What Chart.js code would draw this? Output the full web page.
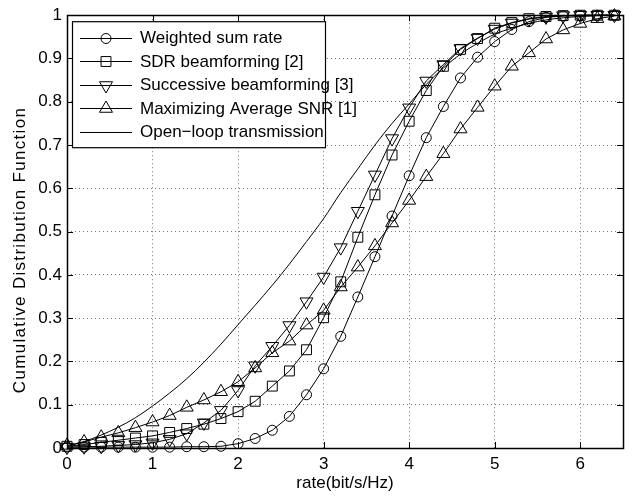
<!DOCTYPE html>
<html>
<head>
<meta charset="utf-8">
<script src="https://cdn.jsdelivr.net/npm/chart.js@4.4.1/dist/chart.umd.min.js"></script>
<style>
  body { margin: 0; background: #fff; }
</style>
</head>
<body>
<canvas id="myChart" width="644" height="500"></canvas>
<script>
// rate (bit/s/Hz) sample points
const rates = [0, 0.2, 0.4, 0.6, 0.8, 1.0, 1.2, 1.4, 1.6, 1.8, 2.0, 2.2, 2.4, 2.6, 2.8, 3.0,
  3.2, 3.4, 3.6, 3.8, 4.0, 4.2, 4.4, 4.6, 4.8, 5.0, 5.2, 5.4, 5.6, 5.8, 6.0, 6.2, 6.4];

const weightedSumRate = [0.002, 0.002, 0.002, 0.002, 0.002, 0.002, 0.002, 0.003, 0.003, 0.004, 0.01,
  0.022, 0.041, 0.073, 0.123, 0.183, 0.258, 0.349, 0.442, 0.536, 0.629, 0.717, 0.789, 0.855,
  0.903, 0.939, 0.967, 0.985, 0.995, 0.998, 0.999, 1.0, 1.0];

const sdrBeamforming = [0.004, 0.008, 0.013, 0.018, 0.023, 0.028, 0.036, 0.045, 0.055, 0.068, 0.084,
  0.108, 0.143, 0.178, 0.227, 0.301, 0.384, 0.487, 0.585, 0.677, 0.755, 0.826, 0.882, 0.921,
  0.946, 0.97, 0.983, 0.992, 0.997, 0.999, 1.0, 1.0, 1.0];

const successiveBeamforming = [0.002, 0.003, 0.004, 0.006, 0.008, 0.012, 0.02, 0.033, 0.058, 0.087,
  0.133, 0.19, 0.235, 0.283, 0.338, 0.395, 0.463, 0.547, 0.631, 0.715, 0.786, 0.848, 0.886,
  0.923, 0.947, 0.968, 0.982, 0.991, 0.996, 0.999, 1.0, 1.0, 1.0];

const maxAvgSnr = [0.006, 0.014, 0.025, 0.035, 0.047, 0.06, 0.075, 0.094, 0.111, 0.13, 0.153,
  0.185, 0.22, 0.247, 0.284, 0.318, 0.372, 0.418, 0.467, 0.52, 0.572, 0.627, 0.68, 0.737,
  0.787, 0.836, 0.882, 0.913, 0.945, 0.966, 0.981, 0.992, 0.998];

const openLoop = [0.003, 0.015, 0.03, 0.048, 0.07, 0.097, 0.127, 0.16, 0.198, 0.24, 0.285,
  0.33, 0.376, 0.425, 0.477, 0.53, 0.59, 0.645, 0.7, 0.75, 0.795, 0.84, 0.878, 0.91,
  0.935, 0.956, 0.97, 0.981, 0.989, 0.994, 0.997, 0.999, 1.0];

const seriesNames = ['Weighted sum rate', 'SDR beamforming [2]', 'Successive beamforming [3]',
  'Maximizing Average SNR [1]', 'Open\u2212loop transmission'];

const xTicks = [0, 1, 2, 3, 4, 5, 6];
const yTicks = [0, 0.1, 0.2, 0.3, 0.4, 0.5, 0.6, 0.7, 0.8, 0.9, 1];

const xTitle = 'rate(bit/s/Hz)';
const yTitle = 'Cumulative Distribution Function';

const FAMILY = '"Liberation Sans", Arial, Helvetica, sans-serif';
const FONT = { family: FAMILY, size: 17 };

function toPoints(values) {
  return values.map((v, i) => ({ x: rates[i], y: v }));
}

function markerSeries(label, values, style, radius, rotation) {
  return {
    label: label,
    data: toPoints(values),
    borderColor: '#000',
    borderWidth: 1,
    pointStyle: style,
    pointRadius: radius,
    pointRotation: rotation,
    pointBorderColor: '#000',
    pointBackgroundColor: 'rgba(0,0,0,0)',
    pointBorderWidth: 1,
    tension: 0,
    clip: false,
  };
}

const datasets = [
  markerSeries(seriesNames[0], weightedSumRate, 'circle', 5, 0),
  markerSeries(seriesNames[1], sdrBeamforming, 'rect', 7, 0),
  markerSeries(seriesNames[2], successiveBeamforming, 'triangle', 7.5, 180),
  markerSeries(seriesNames[3], maxAvgSnr, 'triangle', 7.5, 0),
  {
    label: seriesNames[4],
    data: toPoints(openLoop),
    borderColor: '#000',
    borderWidth: 1,
    pointRadius: 0,
    cubicInterpolationMode: 'monotone',
    clip: false,
  },
];

// box around the plot, inner ticks on all sides, y title and the legend inside the plot
const matlabFrame = {
  id: 'matlabFrame',
  afterDraw(chart) {
    const ctx = chart.ctx;
    const a = chart.chartArea;
    const xs = chart.scales.x;
    const ys = chart.scales.y;
    ctx.save();
    ctx.strokeStyle = '#000';
    ctx.lineWidth = 1;
    ctx.setLineDash([]);
    ctx.beginPath();
    xTicks.forEach((t) => {
      const px = Math.round(xs.getPixelForValue(t)) + 0.5;
      ctx.moveTo(px, a.bottom); ctx.lineTo(px, a.bottom - 6);
      ctx.moveTo(px, a.top); ctx.lineTo(px, a.top + 6);
    });
    yTicks.forEach((t) => {
      const py = Math.round(ys.getPixelForValue(t)) + 0.5;
      ctx.moveTo(a.left, py); ctx.lineTo(a.left + 6, py);
      ctx.moveTo(a.right, py); ctx.lineTo(a.right - 6, py);
    });
    ctx.stroke();
    ctx.lineWidth = 1.5;
    ctx.strokeRect(Math.round(a.left) + 0.5, Math.round(a.top) + 0.5,
      Math.round(a.right - a.left), Math.round(a.bottom - a.top));

    // y title (a bit below centre and widely spaced, as in the original)
    ctx.save();
    ctx.translate(20, 250);
    ctx.rotate(-Math.PI / 2);
    ctx.font = FONT.size + 'px ' + FAMILY;
    if ('letterSpacing' in ctx) ctx.letterSpacing = '1.3px';
    ctx.fillStyle = '#000';
    ctx.textAlign = 'center';
    ctx.textBaseline = 'middle';
    ctx.fillText(yTitle, 0, 0);
    ctx.restore();

    // legend
    const bx = a.left + 5, by = a.top + 6, bw = 253, bh = 126;
    ctx.fillStyle = '#fff';
    ctx.fillRect(bx, by, bw, bh);
    ctx.lineWidth = 1.2;
    ctx.strokeRect(bx + 0.5, by + 0.5, bw, bh);
    ctx.font = FONT.size + 'px ' + FAMILY;
    ctx.textBaseline = 'middle';
    chart.data.datasets.forEach((ds, i) => {
      const y = by + 16.5 + i * 23.5;
      ctx.lineWidth = 1;
      ctx.strokeStyle = '#000';
      ctx.beginPath();
      ctx.moveTo(bx + 8, Math.round(y) + 0.5);
      ctx.lineTo(bx + 60, Math.round(y) + 0.5);
      ctx.stroke();
      if (ds.pointRadius > 0) {
        ctx.fillStyle = 'rgba(0,0,0,0)';
        Chart.helpers.drawPoint(ctx, {
          pointStyle: ds.pointStyle,
          rotation: ds.pointRotation,
          radius: ds.pointRadius,
          borderWidth: 1,
        }, bx + 34, Math.round(y) + 0.5);
      }
      ctx.fillStyle = '#000';
      ctx.fillText(ds.label, bx + 68, y + 1);
    });
    ctx.restore();
  },
};

const ctx = document.getElementById('myChart');

new Chart(ctx, {
  type: 'line',
  data: { datasets: datasets },
  plugins: [matlabFrame],
  options: {
    responsive: false,
    animation: false,
    events: [],
    layout: { padding: { top: 10, right: 21, left: 0, bottom: 0 } },
    plugins: {
      legend: { display: false },
      tooltip: { enabled: false },
    },
    scales: {
      x: {
        type: 'linear',
        min: 0,
        max: 6.5,
        afterBuildTicks: (s) => { s.ticks = xTicks.map((v) => ({ value: v })); },
        afterFit: (s) => { s.height = 52; },
        grid: { color: '#777', lineWidth: 1, drawTicks: false },
        border: { display: false, dash: [1, 3] },
        ticks: { color: '#000', font: FONT, padding: 6, maxRotation: 0, callback: (v) => String(v) },
        title: { display: true, text: xTitle, color: '#000', font: FONT, padding: { bottom: 6 } },
      },
      y: {
        type: 'linear',
        min: 0,
        max: 1,
        afterBuildTicks: (s) => { s.ticks = yTicks.map((v) => ({ value: v })); },
        afterFit: (s) => { s.width = 67; },
        grid: { color: '#777', lineWidth: 1, drawTicks: false },
        border: { display: false, dash: [1, 3] },
        ticks: { color: '#000', font: FONT, padding: 5, callback: (v) => String(Math.round(v * 10) / 10) },
      },
    },
  },
});
</script>
</body>
</html>
